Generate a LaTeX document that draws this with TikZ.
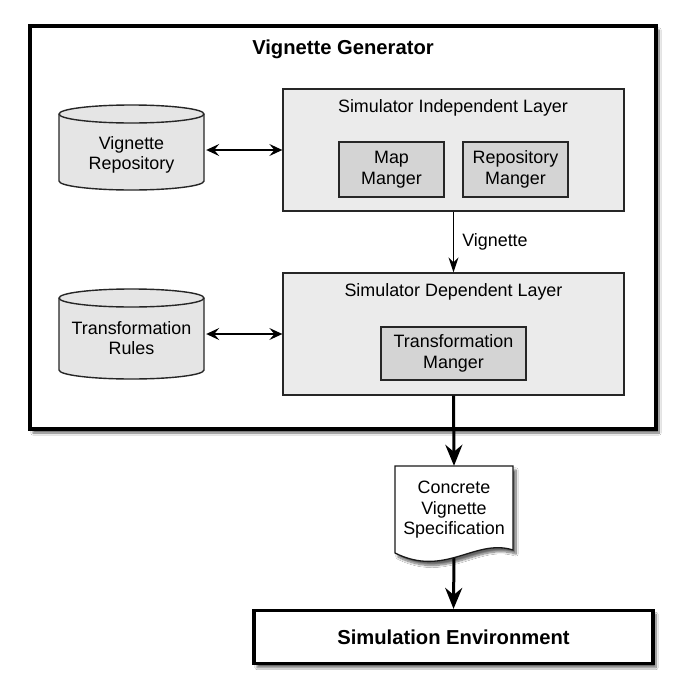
\documentclass[tikz,border=0pt]{standalone}
\usepackage{fontspec}
\setmainfont{Liberation Sans}
\usetikzlibrary{arrows.meta,shadows.blur}
\begin{document}
\begin{tikzpicture}[x=1pt,y=-1pt,
 txt/.style={font=\fontsize{17.9}{20.5}\selectfont, align=center, inner sep=0pt},
 boldtxt/.style={font=\fontsize{20.2}{24}\selectfont\bfseries, inner sep=0pt},
 layer/.style={draw=black!85, line width=1.3pt, fill=black!8, inner sep=0pt},
 mgr/.style={draw=black!85, line width=1.8pt, fill=black!17, txt},
 cylfill/.style={draw=black!85, line width=1.4pt, fill=black!10},
 sh/.style={blur shadow={shadow xshift=3pt, shadow yshift=-4pt, shadow blur steps=10, shadow opacity=60}},
 link/.style={line width=1.4pt, {Stealth[length=13pt,width=12pt,inset=5pt]}-{Stealth[length=13pt,width=12pt,inset=5pt]}},
 flow/.style={line width=1.2pt, -{Stealth[length=15pt,width=10pt,inset=5pt]}},
 bigflow/.style={line width=3pt, -{Stealth[length=21pt,width=17pt,inset=7pt]}},
]
\useasboundingbox (0,0) rectangle (685,699);
\fill[white] (0,0) rectangle (685,699);

% outer box
\node[draw=black, line width=3.5pt, fill=white, sh, minimum width=626pt, minimum height=403pt, inner sep=0pt] (vg) at (343,227.5) {};
\node[boldtxt] (vgt) at (343,49) {Vignette Generator};

% layers
\node[layer, minimum width=341pt, minimum height=122pt] (il) at (453.5,150) {};
\node[txt] (ilt) at (453,108) {Simulator Independent Layer};
\node[mgr, minimum width=105pt, minimum height=55pt] (mm) at (391.5,169.5) {Map\\Manger};
\node[mgr, minimum width=105pt, minimum height=55pt] (rm) at (515.5,169.5) {Repository\\Manger};

\node[layer, minimum width=341pt, minimum height=122pt] (dl) at (453.5,334) {};
\node[txt] (dlt) at (453.5,292) {Simulator Dependent Layer};
\node[mgr, minimum width=145pt, minimum height=53pt] (tm) at (453.5,353.5) {Transformation\\Manger};

% cylinders
\filldraw[cylfill] (59,114) -- (59,181) arc[start angle=180,end angle=0,x radius=72.5,y radius=9] -- (204,114) arc[start angle=0,end angle=-180,x radius=72.5,y radius=9] -- cycle;
\draw[line width=1.4pt, draw=black!85] (59,114) arc[start angle=180,end angle=0,x radius=72.5,y radius=9];
\node[txt, minimum width=145pt] (vr) at (131.5,155) {Vignette\\Repository};

\filldraw[cylfill] (59,298) -- (59,370) arc[start angle=180,end angle=0,x radius=72.5,y radius=9] -- (204,298) arc[start angle=0,end angle=-180,x radius=72.5,y radius=9] -- cycle;
\draw[line width=1.4pt, draw=black!85] (59,298) arc[start angle=180,end angle=0,x radius=72.5,y radius=9];
\node[txt, minimum width=145pt] (tr) at (131.5,338) {Transformation\\Rules};

% links
\draw[link, shorten <=2pt] (vr.east |- il.west) -- (il.west);
\draw[link, shorten <=2pt] (tr.east |- dl.west) -- (dl.west);
\draw[flow] (il.south) -- (dl.north);
\node[txt] (vl) at (495,242) {Vignette};

% simulation environment
\node[draw=black, line width=3.2pt, fill=white, sh, minimum width=399pt, minimum height=53pt, boldtxt] (se) at (453.5,637) {Simulation Environment};

% document
\path node[minimum width=118pt, minimum height=88pt, inner sep=0pt] (doc) at (454,510) {};
\draw[bigflow] (dl.south) -- (doc.north);
\draw[bigflow] (doc.south) -- (se.north);
\filldraw[draw=black!90, line width=1.3pt, fill=white, sh] (395,466) -- (513,466) -- (513,550) .. controls (475,538) and (445,578) .. (395,553) -- cycle;
\node[txt] (doct) at (doc.center) {Concrete\\Vignette\\Specification};
\end{tikzpicture}
\end{document}
